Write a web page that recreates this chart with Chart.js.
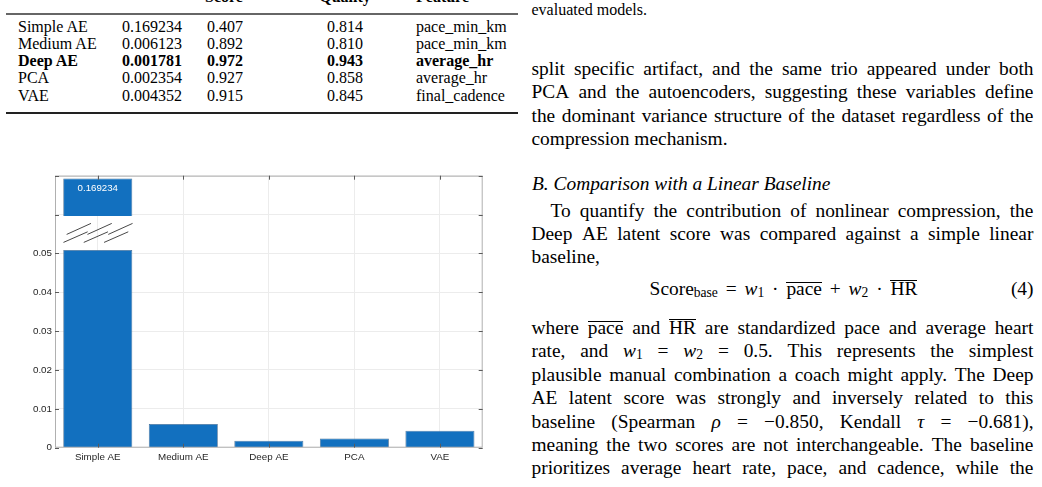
<!DOCTYPE html>
<html lang="en">
<head>
    <meta charset="UTF-8">
    <title>Reconstruction MSE by model</title>
    <script src="https://cdn.jsdelivr.net/npm/chart.js"></script>
    <style>
        body {
            margin: 0;
            padding: 0;
            background: #fff;
            width: 1042px;
            height: 487px;
            overflow: hidden;
            position: relative;
            font-family: "Liberation Serif", "Times New Roman", serif;
            color: #000;
        }
        .abs { position: absolute; white-space: nowrap; }
        .tbl { font-size: 16px; line-height: 16px; }
        .rule { position: absolute; left: 6px; width: 512px; }
        .txt { font-size: 19.4px; line-height: 19.4px; }
        .jl { position: absolute; display: flex; justify-content: space-between; width: 502px; left: 531.5px; }
        .jl span { white-space: nowrap; }
        /* overline for lowercase (x-height) and capitals */
        ovx { display: inline-block; line-height: 0.6em; border-top: 1px solid #000; }
        ovc { display: inline-block; line-height: 0.84em; border-top: 1px solid #000; }
        sub { font-size: 0.7em; vertical-align: -0.16em; line-height: 0; }
        .eq { word-spacing: 3px; }
        #chartBox { position: absolute; left: 0; top: 165px; width: 495px; height: 315px; }
    </style>
</head>
<body>
    <div id="page"></div>
    <div id="chartBox"><canvas id="mseChart"></canvas></div>

    <script>
        // model results (table + bar chart)
        const models = ['Simple AE', 'Medium AE', 'Deep AE', 'PCA', 'VAE'];
        const mse = [0.169234, 0.006123, 0.001781, 0.002354, 0.004352];
        const score = [0.407, 0.892, 0.972, 0.927, 0.915];
        const quality = [0.814, 0.810, 0.943, 0.858, 0.845];
        const feature = ['pace_min_km', 'pace_min_km', 'average_hr', 'average_hr', 'final_cadence'];
        const bestRow = 2;

        // y axis: broken at the top for the off-scale bar
        const yMax = 0.07;
        const yStep = 0.01;
        const yLabelMax = 0.05;
        const breakLow = 0.0509;
        const breakHigh = 0.0596;
        const clipTop = 0.0693;

        const page = document.getElementById('page');

        function put(html, x, y, cls, fs, align) {
            const d = document.createElement('div');
            d.className = 'abs ' + cls;
            d.innerHTML = html;
            d.style.top = (y - 0.62 * fs) + 'px';
            if (align === 'center') {
                d.style.left = (x - 200) + 'px';
                d.style.width = '400px';
                d.style.textAlign = 'center';
            } else if (align === 'right') {
                d.style.right = (1042 - x) + 'px';
            } else {
                d.style.left = x + 'px';
            }
            page.appendChild(d);
            return d;
        }

        // ---- table ----
        const colX = [18, 122, 207, 345, 416];
        put('<b>Score</b>', 205, -1, 'tbl', 16);
        put('<b>Quality</b>', 345, -1, 'tbl', 16, 'center');
        put('<b>Feature</b>', 416, -1, 'tbl', 16);
        const r1 = document.createElement('div');
        r1.className = 'rule';
        r1.style.cssText = 'top:13px;height:2px;background:#666;';
        page.appendChild(r1);
        const r2 = document.createElement('div');
        r2.className = 'rule';
        r2.style.cssText = 'top:112px;height:2px;background:#222;';
        page.appendChild(r2);

        models.forEach((m, i) => {
            const y = 28.5 + i * 17.3;
            const cells = [m, mse[i].toFixed(6), score[i].toFixed(3), quality[i].toFixed(3), feature[i]];
            cells.forEach((c, k) => {
                const html = i === bestRow ? '<b>' + c + '</b>' : c;
                put(html, colX[k], y, 'tbl', 16, k === 3 ? 'center' : null);
            });
        });

        // ---- right column text ----
        function jline(y, text, left, width) {
            const d = document.createElement('div');
            d.className = 'jl txt';
            d.style.top = (y - 0.62 * 19.4) + 'px';
            if (left) { d.style.left = left + 'px'; d.style.width = width + 'px'; }
            d.innerHTML = text.split(' ').map(w => '<span>' + w + '</span>').join('');
            page.appendChild(d);
        }

        put('evaluated models.', 531.5, 12, 'tbl', 15.5);

        jline(71, 'split specific artifact, and the same trio appeared under both');
        jline(94.5, 'PCA and the autoencoders, suggesting these variables define');
        jline(118, 'the dominant variance structure of the dataset regardless of the');
        put('compression mechanism.', 531.5, 141.5, 'txt', 19.4);

        put('<i>B. Comparison with a Linear Baseline</i>', 532, 186.5, 'txt', 19.4);

        jline(213, 'To quantify the contribution of nonlinear compression, the', 550.5, 483);
        jline(236.5, 'Deep AE latent score was compared against a simple linear');
        put('baseline,', 531.5, 259.5, 'txt', 19.4);

        put('Score<sub>base</sub> = <i>w</i><sub>1</sub> &middot; <ovx>pace</ovx> + <i>w</i><sub>2</sub> &middot; <ovc>HR</ovc>',
            783.5, 291, 'txt eq', 19.4, 'center');
        put('(4)', 1033.5, 291, 'txt', 19.4, 'right');

        jline(330, 'where <ovx>pace</ovx> and <ovc>HR</ovc> are standardized pace and average heart');
        jline(353.5, 'rate, and <i>w</i><sub>1</sub> = <i>w</i><sub>2</sub> = 0.5. This represents the simplest');
        jline(377, 'plausible manual combination a coach might apply. The Deep');
        jline(400.5, 'AE latent score was strongly and inversely related to this');
        jline(424, 'baseline (Spearman <i>&rho;</i> = &minus;0.850, Kendall <i>&tau;</i> = &minus;0.681),');
        jline(447, 'meaning the two scores are not interchangeable. The baseline');
        jline(470.5, 'prioritizes average heart rate, pace, and cadence, while the');

        // ---- chart ----
        const lowerBars = mse.map(v => v > breakLow ? [0, breakLow] : v);
        const upperBars = mse.map(v => v > breakLow ? [breakHigh, clipTop] : null);

        const barBlue = '#1270bf';
        const frameColor = '#b0b0b0';
        const tickColor = '#5a5a5a';

        const axesOverlay = {
            id: 'axesOverlay',
            afterDatasetsDraw(chart) {
                const ctx = chart.ctx;
                const a = chart.chartArea;
                const xs = chart.scales.x;
                const ys = chart.scales.y;
                ctx.save();

                // hatch marks in the axis break
                const up = chart.getDatasetMeta(1).data;
                mse.forEach((v, i) => {
                    if (v <= breakLow) return;
                    const el = up[i];
                    const w = el.width;
                    const left = el.x - w / 2;
                    const gTop = ys.getPixelForValue(breakHigh);
                    ctx.strokeStyle = '#333';
                    ctx.lineWidth = 0.9;
                    for (let k = 0; k < 3; k++) {
                        ctx.beginPath();
                        ctx.moveTo(left + 3.4 + k * 20.8, gTop + 18.3);
                        ctx.lineTo(left + 27.7 + k * 20.8, gTop + 7.3);
                        ctx.moveTo(left + 0.2 + k * 20.3, gTop + 26.3);
                        ctx.lineTo(left + 24.4 + k * 20.3, gTop + 15.7);
                        ctx.stroke();
                    }
                    // true value in the clipped bar
                    ctx.fillStyle = '#fff';
                    ctx.font = '9.7px "Liberation Sans", Arial, sans-serif';
                    ctx.textAlign = 'center';
                    ctx.textBaseline = 'middle';
                    ctx.fillText(v.toFixed(6), el.x, el.y + 9.5);
                });

                // frame
                ctx.strokeStyle = frameColor;
                ctx.lineWidth = 1;
                ctx.strokeRect(a.left + 0.5, a.top + 0.5, a.right - a.left - 1, a.bottom - a.top - 1);

                // inner tick marks on all four sides
                ctx.strokeStyle = tickColor;
                ctx.beginPath();
                ys.ticks.forEach(t => {
                    const py = Math.round(ys.getPixelForValue(t.value)) + 0.5;
                    ctx.moveTo(a.left, py); ctx.lineTo(a.left + 4, py);
                    ctx.moveTo(a.right, py); ctx.lineTo(a.right - 4, py);
                });
                models.forEach((m, i) => {
                    const px = Math.round(xs.getPixelForValue(i)) + 0.5;
                    ctx.moveTo(px, a.bottom); ctx.lineTo(px, a.bottom - 4);
                    ctx.moveTo(px, a.top); ctx.lineTo(px, a.top + 4);
                });
                ctx.stroke();
                ctx.restore();
            }
        };

        new Chart(document.getElementById('mseChart'), {
            type: 'bar',
            data: {
                labels: models,
                datasets: [
                    {
                        label: 'MSE',
                        data: lowerBars,
                        backgroundColor: barBlue,
                        borderColor: '#4a6f94',
                        borderWidth: 0.8,
                        grouped: false,
                        barPercentage: 0.807,
                        categoryPercentage: 1
                    },
                    {
                        label: 'MSE (clipped)',
                        data: upperBars,
                        backgroundColor: barBlue,
                        borderColor: '#4a6f94',
                        borderWidth: 0.8,
                        grouped: false,
                        barPercentage: 0.807,
                        categoryPercentage: 1
                    }
                ]
            },
            options: {
                responsive: true,
                maintainAspectRatio: false,
                animation: false,
                layout: { padding: { left: 0, right: 12.3, top: 10.7, bottom: 0 } },
                plugins: {
                    legend: { display: false },
                    tooltip: { enabled: false }
                },
                scales: {
                    x: {
                        grid: { offset: false, color: '#ececec', drawTicks: false },
                        border: { display: false },
                        ticks: {
                            padding: 4,
                            color: '#262626',
                            font: { family: '"Liberation Sans", Arial, sans-serif', size: 9.8 }
                        },
                        afterFit(s) { s.height = 32.3; }
                    },
                    y: {
                        min: 0,
                        max: yMax,
                        grid: { color: '#ececec', drawTicks: false },
                        border: { display: false },
                        ticks: {
                            stepSize: yStep,
                            padding: 3,
                            color: '#262626',
                            font: { family: '"Liberation Sans", Arial, sans-serif', size: 9.8 },
                            callback: v => v > yLabelMax + 1e-9 ? '' : (v === 0 ? '0' : v.toFixed(2))
                        },
                        afterFit(s) { s.width = 55; }
                    }
                }
            },
            plugins: [axesOverlay]
        });
    </script>
</body>
</html>
